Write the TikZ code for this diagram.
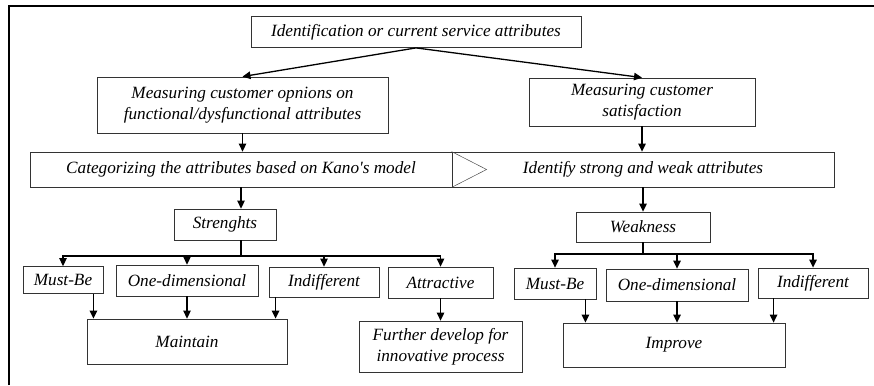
\documentclass[tikz,border=0pt]{standalone}
\usepackage{fontspec}
\setmainfont{Liberation Serif}
\usetikzlibrary{arrows.meta}

\begin{document}
\begin{tikzpicture}[x=1pt,y=-1pt]
\tikzset{box/.style = {draw=black!80, line width=0.8pt, inner sep=1pt, align=center, font=\itshape\fontsize{17.2}{21}\selectfont},
  arr/.style = {line width=1.3pt, -{Triangle[length=8pt,width=7.5pt]}}}
\useasboundingbox (0,0) rectangle (874,385);
\draw[line width=1.6pt] (9,385) -- (9,6) -- (874,6);
% top
\node[box, minimum width=330, minimum height=31] (ident) at (416,32) {Identification or current service attributes};
\node[box, minimum width=291, minimum height=56] (opin) at (242.5,105) {Measuring customer opnions on\\functional/dysfunctional attributes};
\node[box, minimum width=226, minimum height=48] (satis) at (642,102) {Measuring customer\\satisfaction};
\draw[arr] (ident.south) -- (opin.north);
\draw[arr] (ident.south) -- (satis.north);
% bar
\node[box, minimum width=422, minimum height=35] (cat) at (241,169.5) {Categorizing the attributes based on Kano\textquotesingle s model};
\node[box, minimum width=382, minimum height=35] (ident2) at (643,169.5) {Identify strong and weak attributes};
\draw[black!70, line width=0.5pt] (ident2.north west) -- ([xshift=35pt]ident2.west) -- (ident2.south west);
\draw[arr] (opin.south) -- (opin.south |- cat.north);
\draw[arr] (satis.south) -- (satis.south |- ident2.north);
% strengths
\node[box, minimum width=102, minimum height=31] (str) at (225,224.5) {Strenghts};
\draw[arr] (cat.south) -- (cat.south |- str.north);
\node[box, minimum width=80, minimum height=27] (mb1) at (63,280) {Must-Be};
\node[box, minimum width=142, minimum height=31] (od1) at (187,280.5) {One-dimensional};
\node[box, minimum width=110, minimum height=30] (ind1) at (324,282) {Indifferent};
\node[box, minimum width=105, minimum height=31] (att) at (440.5,282.5) {Attractive};
\coordinate (sj) at (241,256);
\draw[line width=1.3pt] (str.south -| sj) -- (sj);
\foreach \n in {mb1,od1,ind1,att}
  \draw[arr] (sj) -| (\n.north);
\node[box, minimum width=200, minimum height=45] (mai) at (187,341.5) {Maintain};
\node[box, minimum width=163, minimum height=51] (fur) at (440.5,346.5) {Further develop for\\innovative process};
\draw[arr] ([xshift=-10pt]mb1.south east) -- ([xshift=-10pt]mb1.south east |- mai.north);
\draw[arr] (od1.south) -- (od1.south |- mai.north);
\draw[arr] ([xshift=7pt]ind1.south west) -- ([xshift=7pt]ind1.south west |- mai.north);
\draw[arr] (att.south) -- (att.south |- fur.north);
% weakness
\node[box, minimum width=134, minimum height=30] (weak) at (643,227) {Weakness};
\draw[arr] (ident2.south) -- (ident2.south |- weak.north);
\node[box, minimum width=82, minimum height=31] (mb2) at (555,283.5) {Must-Be};
\node[box, minimum width=142, minimum height=32] (od2) at (677,285) {One-dimensional};
\node[box, minimum width=110, minimum height=30] (ind2) at (813,283) {Indifferent};
\coordinate (wj) at (643,254);
\draw[line width=1.3pt] (weak.south) -- (wj);
\foreach \n in {mb2,od2,ind2}
  \draw[arr] (wj) -| (\n.north);
\node[box, minimum width=222, minimum height=44] (imp) at (674,345) {Improve};
\draw[arr] ([xshift=-11pt]mb2.south east) -- ([xshift=-11pt]mb2.south east |- imp.north);
\draw[arr] (od2.south) -- (od2.south |- imp.north);
\draw[arr] ([xshift=16pt]ind2.south west) -- ([xshift=16pt]ind2.south west |- imp.north);
\end{tikzpicture}
\end{document}
